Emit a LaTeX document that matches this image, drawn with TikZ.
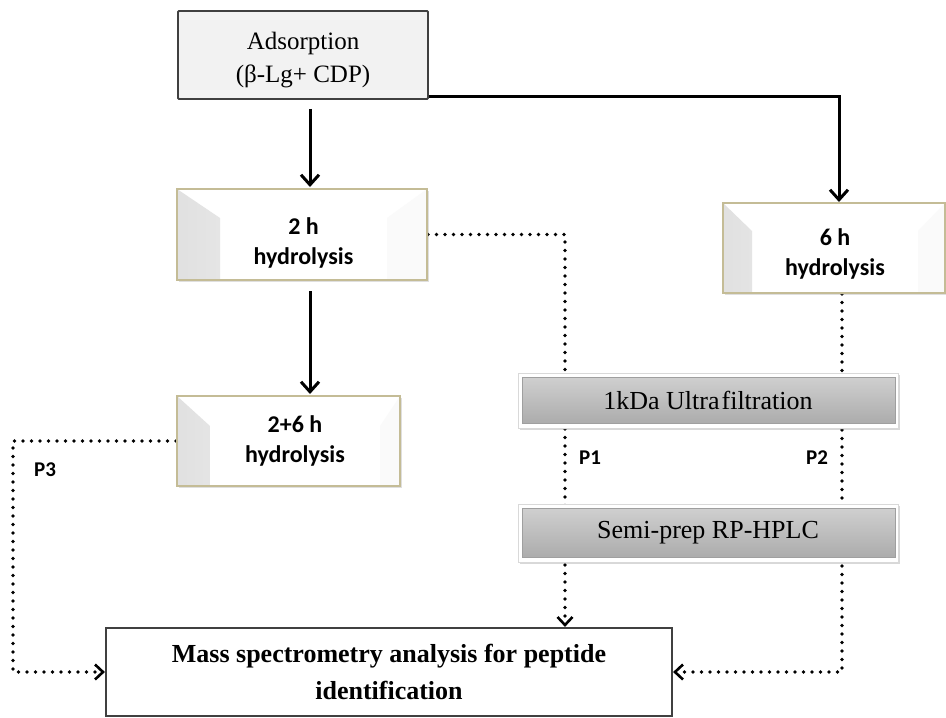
\documentclass[tikz,border=0pt]{standalone}
\usepackage{fontspec}
\setmainfont{Liberation Serif}
\newfontfamily\calib{Carlito}
\usetikzlibrary{arrows.meta,shadows,calc}
\pgfdeclarelayer{backdrop}
\pgfdeclarelayer{bg}
\pgfsetlayers{backdrop,bg,main}
\definecolor{bevelborder}{RGB}{196,188,150}
\tikzset{
  solidarrow/.style={line width=3pt, -{Straight Barb[length=10pt,width=18pt,line width=3pt]}},
  dotline/.style={line width=3.6pt, line cap=round, dash pattern=on 0pt off 8.5pt},
  dotarrow/.style={dotline, -{Straight Barb[length=8pt,width=15pt,line width=2.6pt]}},
  bevelbox/.style n args={3}{draw=bevelborder, line width=2pt, fill=white, inner sep=0pt,
    drop shadow={opacity=0.25, shadow xshift=2pt, shadow yshift=-2pt},
    path picture={
      \shade[left color=gray!24, right color=gray!3]
        (path picture bounding box.north west)
        -- ([shift={(#1pt,-#3pt)}]path picture bounding box.north west)
        -- ([shift={(#1pt,0pt)}]path picture bounding box.south west)
        -- (path picture bounding box.south west) -- cycle;
      \fill[gray!4]
        (path picture bounding box.north east)
        -- ([shift={(-#2pt,-#3pt)}]path picture bounding box.north east)
        -- ([shift={(-#2pt,0pt)}]path picture bounding box.south east)
        -- (path picture bounding box.south east) -- cycle;
    }},
  graybox/.style={draw=gray!30, line width=0.6pt, fill=white, inner sep=0pt,
    minimum width=380pt,
    drop shadow={opacity=0.3, shadow xshift=1.5pt, shadow yshift=-1.5pt},
    path picture={
      \shade[top color=gray!35, middle color=gray!50, bottom color=gray!68, draw=gray!75, line width=0.8pt]
        ([shift={(4pt,5pt)}]path picture bounding box.south west)
        rectangle ([shift={(-3pt,-4pt)}]path picture bounding box.north east);
    },
    font=\fontsize{26}{30}\selectfont},
  calibtext/.style={font=\calib\bfseries\fontsize{24}{30}\selectfont, align=center, inner sep=0pt},
  plabel/.style={font=\calib\bfseries\fontsize{21}{24}\selectfont, inner sep=0pt},
}
\begin{document}
\begin{tikzpicture}[x=1pt,y=-1pt]
\useasboundingbox (0,0) rectangle (946,718);
\begin{pgfonlayer}{backdrop}
  \fill[white] (0,0) rectangle (946,718);
\end{pgfonlayer}

% nodes
\node[draw=black!75, fill=black!5, line width=1.8pt, rounded corners=1pt,
      minimum width=250pt, minimum height=88pt] (ads) at (303,55) {};
\node[align=center, inner sep=0pt, font=\fontsize{25}{33}\selectfont] (adst) at (303,60) {Adsorption\\(β-Lg+ CDP)};

\node[bevelbox={43}{40}{29}, minimum width=250pt, minimum height=91pt] (h2) at (302,234.5) {};
\node[calibtext] (h2t) at (303.5,243) {2 h\\hydrolysis};

\node[bevelbox={33}{20}{30}, minimum width=223pt, minimum height=90pt] (h26) at (288.5,441) {};
\node[calibtext] (h26t) at (295,441) {2+6 h\\hydrolysis};

\node[bevelbox={29}{27}{28}, minimum width=222pt, minimum height=90pt] (h6) at (834,248) {};
\node[calibtext] (h6t) at (835,254) {6 h\\hydrolysis};

\node[graybox, minimum height=55pt] (uf) at (708,400.5) {1kDa Ultra\hspace{2pt}filtration};
\node[graybox, minimum height=58pt] (hplc) at (708,533) {Semi-prep RP-HPLC};

\node[draw=black!75, line width=2.2pt, minimum width=566pt, minimum height=88pt,
      align=center, font=\bfseries\fontsize{26}{37}\selectfont] (mass) at (389,672)
      {Mass spectrometry analysis for peptide\\identification};

\node[plabel] (p1) at (590,458) {P1};
\node[plabel] (p2) at (817,458) {P2};
\node[plabel] (p3) at (45,470) {P3};

% connectors
\coordinate (mc) at (565,234.5);
\coordinate (lc) at (13,672);
\coordinate (rc) at (842,672);
\begin{pgfonlayer}{bg}
  \draw[dotarrow] (h2.east) -- (mc) -- (mc |- mass.north);
  \draw[dotarrow] (h26.west) -| (lc) -- (mass.west);
  \draw[dotarrow] (rc |- h6.south) -- (rc) -- (mass.east);
\end{pgfonlayer}
\draw[solidarrow] ($(ads.south)+(7,9)$) -- ($(h2.north)+(8,-1)$);
\draw[solidarrow] ($(h2.south)+(8,10)$) -- ($(h26.north)+(21.5,-1)$);
\draw[solidarrow] ($(ads.south east)+(0,-3)$) -| ($(h6.north)+(5,0)$);
\end{tikzpicture}
\end{document}
